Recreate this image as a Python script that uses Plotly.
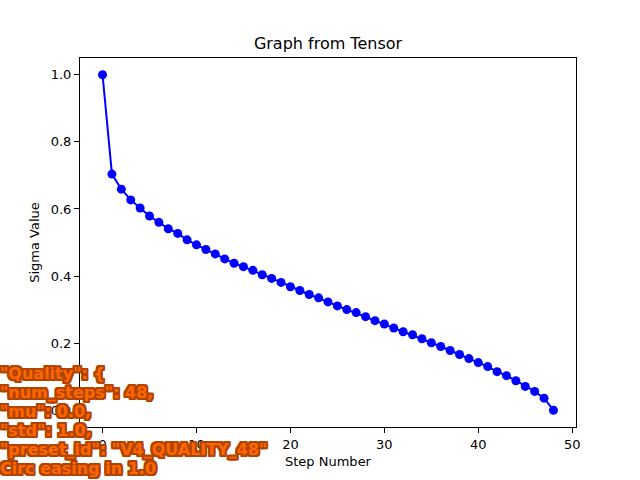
import plotly.graph_objects as go

# sigma schedule (49 steps)
steps = list(range(49))
sigmas = [
    1.000, 0.704, 0.659, 0.627, 0.603, 0.579, 0.560, 0.541, 0.527, 0.508,
    0.493, 0.479, 0.466, 0.451, 0.438, 0.428, 0.417, 0.404, 0.393, 0.381,
    0.368, 0.357, 0.345, 0.335, 0.323, 0.311, 0.300, 0.291, 0.279, 0.267,
    0.257, 0.245, 0.234, 0.225, 0.213, 0.201, 0.190, 0.178, 0.166, 0.154,
    0.142, 0.130, 0.115, 0.103, 0.088, 0.071, 0.056, 0.036, 0.000,
]
x_ticks = [0, 10, 20, 30, 40, 50]
y_ticks = [0.0, 0.2, 0.4, 0.6, 0.8, 1.0]
overlay_lines = [
    '"Quality": {',
    '"num_steps": 48,',
    '"mu": 0.0,',
    '"std": 1.0,',
    '"preset_id": "V4_QUALITY_48"',
    'Circ easing in 1.0',
]

W, H = 640, 480
L, R, T, B = 80, 64, 58, 53

fig = go.Figure()
fig.add_trace(go.Scatter(
    x=steps,
    y=sigmas,
    mode='lines+markers',
    line=dict(color='#0000ff', width=2),
    marker=dict(color='#0000ff', size=9),
    showlegend=False,
))

# orange text with a dark outline, faked with stacked text-shadows
outline = '#b04400'
shadow = ', '.join(f'{dx}px {dy}px 0 {outline}'
                   for dx in (-2, -1, 0, 1, 2) for dy in (-2, -1, 0, 1, 2)
                   if (dx, dy) != (0, 0))

plot_w = W - L - R
plot_h = H - T - B
for i, line in enumerate(overlay_lines):
    y_px = 373 + 19 * i  # line centre, pixels from top
    fig.add_annotation(
        text=line,
        xref='paper', yref='paper',
        x=(-2 - L) / plot_w, y=(H - B - y_px) / plot_h,
        xanchor='left', yanchor='middle',
        showarrow=False,
        font=dict(family='DejaVu Sans', size=16, color='#ff6600',
                  weight='bold', shadow=shadow),
    )

axis_style = dict(
    showgrid=False, zeroline=False,
    showline=True, linecolor='black', linewidth=1, mirror=True,
    ticks='outside', ticklen=5, tickcolor='black',
    tickfont=dict(family='DejaVu Sans', size=13, color='black'),
)

fig.update_xaxes(
    range=[-2.4, 50.4], tickvals=x_ticks,
    title=dict(text='Step Number', standoff=6,
               font=dict(family='DejaVu Sans', size=13, color='black')),
    **axis_style,
)
fig.update_yaxes(
    range=[-0.05, 1.05], tickvals=y_ticks, tickformat='.1f',
    title=dict(text='Sigma Value', standoff=8,
               font=dict(family='DejaVu Sans', size=13, color='black')),
    **axis_style,
)

fig.update_layout(
    width=W, height=H,
    margin=dict(l=L, r=R, t=T, b=B),
    paper_bgcolor='white', plot_bgcolor='white',
    title=dict(text='Graph from Tensor', x=0.5, xref='paper',
               y=1 - 43 / H, yanchor='middle',
               font=dict(family='DejaVu Sans', size=16, color='black')),
)

# drop the browser's default 8px body margin so the figure sits at 0,0
fig.write_html("out.html", config={'displayModeBar': False},
               post_script="document.body.style.margin='0';")
